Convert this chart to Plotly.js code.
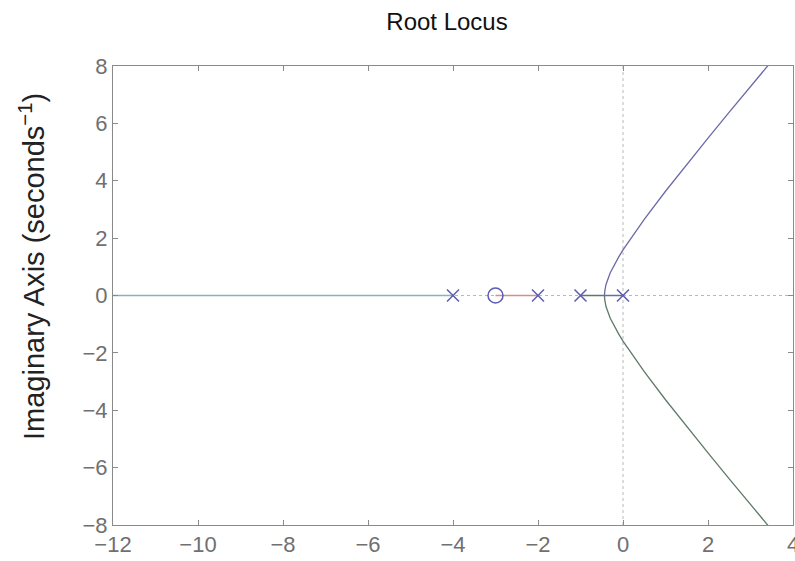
<!DOCTYPE html>
<html>
<head>
<meta charset="utf-8">
<script src="https://cdn.plot.ly/plotly-3.0.1.min.js"></script>
<style>
  html, body { margin: 0; padding: 0; background: #fff; }
  #plot { width: 795px; height: 561px; }
</style>
</head>
<body>
<div id="plot"></div>
<script>
// Open-loop poles and zero
const poleRe = [0, -1, -2, -4];
const poleIm = [0, 0, 0, 0];
const zeroRe = [-3];
const zeroIm = [0];

// Branch leaving the pole at 0: left to the breakaway point, then up along the asymptote
const branch1Re = [0, -0.436, -0.43, -0.4, -0.3, -0.2, -0.1, 0, 0.25, 0.5, 1, 1.5, 2, 2.5, 3, 3.5];
const branch1Im = [0, 0, 0.143, 0.385, 0.792, 1.089, 1.348, 1.587, 2.141, 2.657, 3.634, 4.571, 5.487, 6.39, 7.285, 8.173];

// Branch leaving the pole at -1: right to the breakaway point, then down
const branch2Re = [-1, -0.436, -0.43, -0.4, -0.3, -0.2, -0.1, 0, 0.25, 0.5, 1, 1.5, 2, 2.5, 3, 3.5];
const branch2Im = [0, 0, -0.143, -0.385, -0.792, -1.089, -1.348, -1.587, -2.141, -2.657, -3.634, -4.571, -5.487, -6.39, -7.285, -8.173];

// Branch from the pole at -2 into the zero at -3
const branch3Re = [-2, -3];
const branch3Im = [0, 0];

// Branch from the pole at -4 off towards minus infinity
const branch4Re = [-4, -13];
const branch4Im = [0, 0];

const xTicks = [-12, -10, -8, -6, -4, -2, 0, 2, 4];
const yTicks = [-8, -6, -4, -2, 0, 2, 4, 6, 8];

const xRange = [-12, 4];
const yRange = [-8, 8];

const FONT = 'Liberation Sans, Arial, Helvetica, sans-serif';
const fmt = v => (v < 0 ? '\u2212' + Math.abs(v) : String(v));

const lineTrace = (x, y, color) => ({
  x, y, type: 'scatter', mode: 'lines', hoverinfo: 'skip',
  line: { color, width: 1.3 }
});

const traces = [
  lineTrace(branch4Re, branch4Im, '#7fb8bc'),
  lineTrace(branch3Re, branch3Im, '#d98c8c'),
  lineTrace(branch2Re, branch2Im, '#5e7a66'),
  lineTrace(branch1Re, branch1Im, '#6a6aa8'),
  {
    x: poleRe, y: poleIm, type: 'scatter', mode: 'markers',
    marker: { symbol: 'x-thin-open', size: 12, color: '#5c5cb0', line: { color: '#5c5cb0', width: 1.5 } }
  },
  {
    x: zeroRe, y: zeroIm, type: 'scatter', mode: 'markers',
    marker: { symbol: 'circle-open', size: 15, color: '#5c5cb0', line: { color: '#5c5cb0', width: 1.5 } }
  }
];

const axisCommon = {
  showgrid: false,
  zeroline: false,
  showline: true,
  linecolor: '#8a8a8a',
  linewidth: 1,
  mirror: 'ticks',
  ticks: 'inside',
  ticklen: 5,
  tickcolor: '#8a8a8a',
  ticklabeloverflow: 'allow',
  tickfont: { family: FONT, size: 22, color: '#707070' }
};

const layout = {
  width: 795,
  height: 561,
  margin: { l: 113, r: 2, t: 66, b: 36 },
  paper_bgcolor: '#ffffff',
  plot_bgcolor: '#ffffff',
  showlegend: false,
  title: {
    text: 'Root Locus',
    font: { family: FONT, size: 24, color: '#111' },
    x: 447 / 795, xanchor: 'center',
    y: 1 - 22 / 561, yanchor: 'middle'
  },
  xaxis: Object.assign({}, axisCommon, {
    range: xRange,
    tickvals: xTicks,
    ticktext: xTicks.map(fmt)
  }),
  yaxis: Object.assign({}, axisCommon, {
    range: yRange,
    tickvals: yTicks,
    ticktext: yTicks.map(fmt)
  }),
  annotations: [{
    text: 'Imaginary Axis (seconds<sup>\u22121</sup>)',
    xref: 'paper', yref: 'paper',
    x: (32 - 113) / (795 - 113 - 2),
    y: (561 - 36 - 267) / (561 - 66 - 36),
    xanchor: 'center', yanchor: 'middle',
    textangle: -90, showarrow: false,
    font: { family: FONT, size: 29, color: '#222' }
  }],
  shapes: [
    { type: 'line', xref: 'x', yref: 'y', x0: 0, x1: 0, y0: yRange[0], y1: yRange[1],
      line: { color: '#b8b8b8', width: 1, dash: 'dot' }, layer: 'below' },
    { type: 'line', xref: 'x', yref: 'y', x0: xRange[0], x1: xRange[1], y0: 0, y1: 0,
      line: { color: '#b8b8b8', width: 1, dash: 'dot' }, layer: 'below' }
  ]
};

Plotly.newPlot('plot', traces, layout, { staticPlot: true, displayModeBar: false });
</script>
</body>
</html>
